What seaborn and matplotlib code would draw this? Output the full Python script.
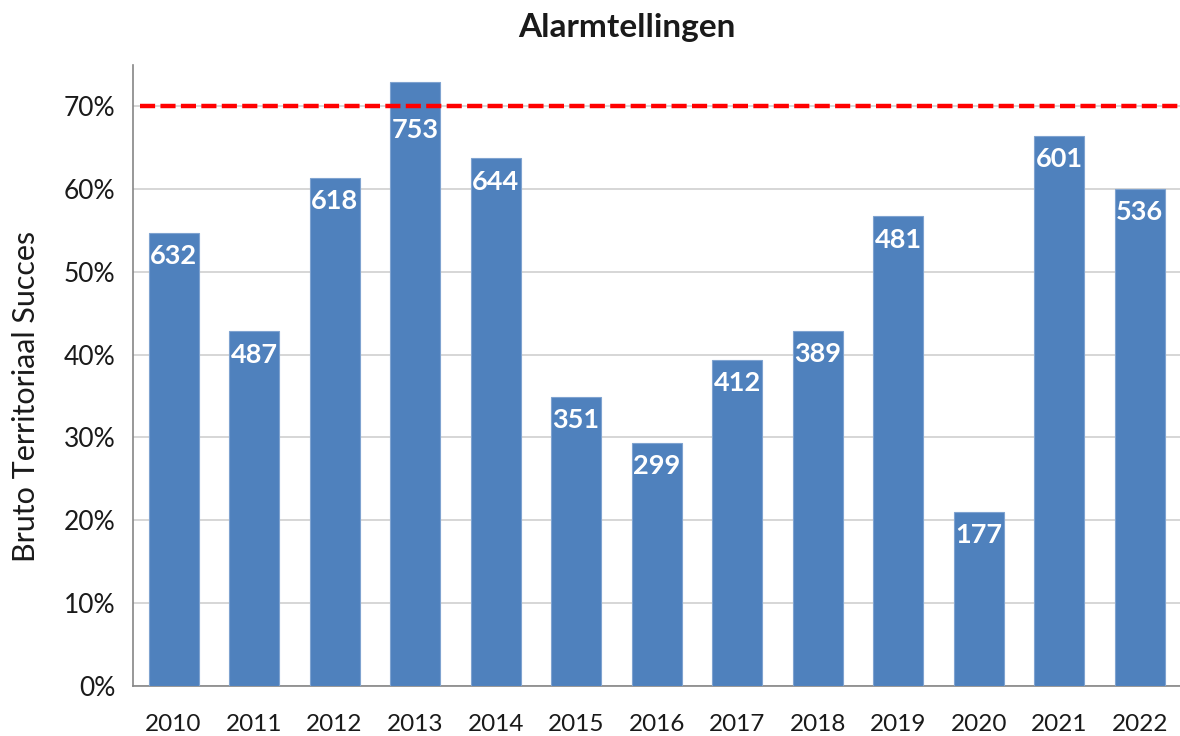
import pandas as pd
import seaborn as sns
import matplotlib.pyplot as plt
from matplotlib.ticker import PercentFormatter, FixedLocator

# Data
years = ['2010', '2011', '2012', '2013', '2014', '2015', '2016',
         '2017', '2018', '2019', '2020', '2021', '2022']
success = [0.547, 0.428, 0.613, 0.729, 0.637, 0.349, 0.293,
           0.394, 0.429, 0.567, 0.210, 0.664, 0.600]
alarm_counts = [632, 487, 618, 753, 644, 351, 299, 412, 389, 481, 177, 601, 536]
target = 0.70

df = pd.DataFrame({'year': years, 'success': success, 'count': alarm_counts})

sns.set_style('white')
plt.rcParams['font.family'] = ['Lato', 'DejaVu Sans']

fig = plt.figure(figsize=(11.8, 7.36), dpi=100)
ax = fig.add_axes([0.113, 0.068, 0.887, 0.844])

sns.barplot(data=df, x='year', y='success', color='#4F81BD', saturation=1,
            width=0.62, edgecolor='#7FA3D0', linewidth=0.8, ax=ax, zorder=3)

# Count labels inside the top of each bar (pushed under the target line if they would cross it)
for i, (v, c) in enumerate(zip(success, alarm_counts)):
    ypos = v - 0.028
    if abs(ypos - target) < 0.02:
        ypos = target - 0.029
    ax.text(i, ypos, str(c), ha='center', va='center', color='white',
            fontsize=19.5, fontweight='bold', zorder=5)

# Target line
ax.hlines(target, -0.42, 12.6, colors='#FF0000', linestyles=(0, (3.4, 1.2)),
          linewidth=3.2, zorder=4)

ax.set_ylim(0, 0.75)
ax.set_xlim(-0.5, 12.5)
ax.set_yticks([0, 0.1, 0.2, 0.3, 0.4, 0.5, 0.6, 0.7])
ax.yaxis.set_major_formatter(PercentFormatter(1.0, decimals=0))
ax.yaxis.grid(True, color='#CFCFCF', linewidth=1.2, zorder=0)
ax.set_axisbelow(True)

# ticks between categories on x axis
ax.xaxis.set_minor_locator(FixedLocator([i - 0.5 for i in range(len(years) + 1)]))
ax.tick_params(axis='x', which='major', length=0, labelsize=17.5, pad=20, labelcolor='#1a1a1a')
ax.tick_params(axis='x', which='minor', length=8, width=1.2, color='#868686', direction='out')
ax.tick_params(axis='y', which='major', length=8, width=1.2, color='#868686',
               direction='out', labelsize=19, pad=5, labelcolor='#1a1a1a')

for side in ['top', 'right']:
    ax.spines[side].set_visible(False)
for side in ['left', 'bottom']:
    ax.spines[side].set_color('#868686')
    ax.spines[side].set_linewidth(1.2)

ax.set_xlabel('')
ax.set_ylabel('Bruto Territoriaal Succes', fontsize=22, color='#1a1a1a')
ax.yaxis.set_label_coords(-0.089, 0.466)

fig.text(0.531, 0.962, 'Alarmtellingen', fontsize=24, fontweight='bold',
         ha='center', va='center', color='#1a1a1a')

fig.savefig('out.png', dpi=100)
